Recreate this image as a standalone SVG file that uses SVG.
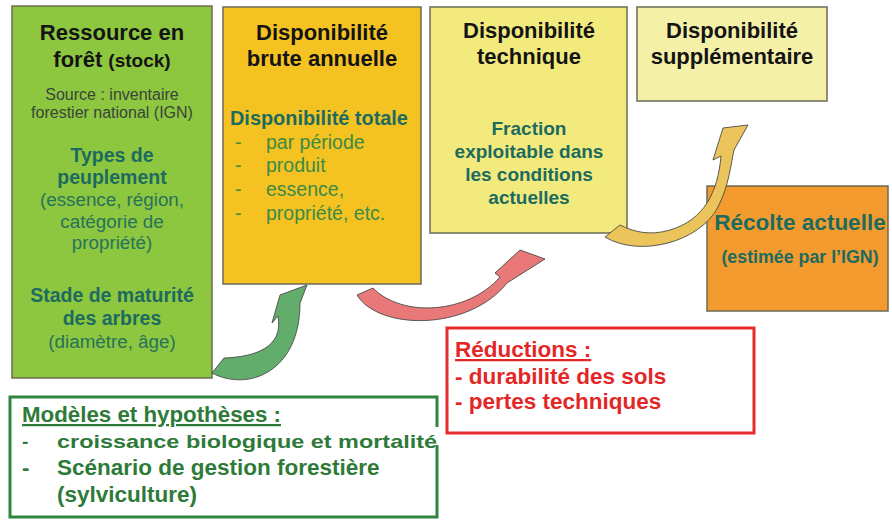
<svg xmlns="http://www.w3.org/2000/svg" width="892" height="520" viewBox="0 0 892 520">
  <style>
    text { font-family: "Liberation Sans", Arial, sans-serif; }
    .box { stroke: #6b6b55; stroke-width: 1.5; }
    .ttl { font-weight: bold; fill: #141414; font-size: 22px; text-anchor: middle; }
    .teal { font-weight: bold; fill: #1c6b5e; }
    .tealr { fill: #27735c; }
    .grn { fill: #3d8a45; }
    .red { fill: #e32626; font-weight: bold; }
    .dgrn { fill: #2e7a38; font-weight: bold; }
    .mid { text-anchor: middle; }
    .arrow { stroke: #4a4a4a; stroke-width: 0.9; stroke-linejoin: round; }
  </style>

  <rect width="892" height="520" fill="#ffffff"/>

  <!-- Forest resource (stock) -->
  <g id="ressource">
    <rect class="box" x="12" y="6" width="200" height="372" fill="#8dc63f"/>
    <text class="ttl" x="112" y="40" font-size="23">Ressource en</text>
    <text class="ttl" x="112" y="67" font-size="23">forêt <tspan font-size="19">(stock)</tspan></text>
    <text class="mid" x="112" y="100" font-size="16" fill="#37453a">Source : inventaire</text>
    <text class="mid" x="112" y="118" font-size="16" fill="#37453a">forestier national (IGN)</text>
    <text class="teal mid" x="112" y="162" font-size="19.5">Types de</text>
    <text class="teal mid" x="112" y="184" font-size="19.5">peuplement</text>
    <text class="tealr mid" x="112" y="206" font-size="18.8">(essence, région,</text>
    <text class="tealr mid" x="112" y="228" font-size="18.8">catégorie de</text>
    <text class="tealr mid" x="112" y="249" font-size="18.8">propriété)</text>
    <text class="teal mid" x="112" y="302" font-size="19.5">Stade de maturité</text>
    <text class="teal mid" x="112" y="325" font-size="19.5">des arbres</text>
    <text class="tealr mid" x="112" y="348" font-size="18.8">(diamètre, âge)</text>
  </g>

  <!-- Gross annual availability -->
  <g id="brute">
    <rect class="box" x="223" y="7" width="198" height="277" fill="#f4c322"/>
    <text class="ttl" x="322" y="40">Disponibilité</text>
    <text class="ttl" x="322" y="66">brute annuelle</text>
    <text class="teal" x="230" y="125" font-size="19.9">Disponibilité totale</text>
    <g class="grn" font-size="19.5">
      <text x="235" y="149">-</text><text x="266" y="149">par période</text>
      <text x="235" y="172">-</text><text x="266" y="172">produit</text>
      <text x="235" y="196">-</text><text x="266" y="196">essence,</text>
      <text x="235" y="220">-</text><text x="266" y="220">propriété, etc.</text>
    </g>
  </g>

  <!-- Technical availability -->
  <g id="technique">
    <rect class="box" x="430" y="7" width="197" height="226" fill="#f3ea7e"/>
    <text class="ttl" x="529" y="38">Disponibilité</text>
    <text class="ttl" x="529" y="64">technique</text>
    <g class="teal mid" font-size="19">
      <text x="529" y="135">Fraction</text>
      <text x="529" y="158">exploitable dans</text>
      <text x="529" y="181">les conditions</text>
      <text x="529" y="204">actuelles</text>
    </g>
  </g>

  <!-- Additional availability -->
  <g id="supplementaire">
    <rect class="box" x="637" y="7" width="190" height="94" fill="#f5f0a8"/>
    <text class="ttl" x="732" y="38">Disponibilité</text>
    <text class="ttl" x="732" y="64" font-size="19.6">supplémentaire</text>
  </g>

  <!-- Current harvest -->
  <g id="recolte">
    <rect class="box" x="707" y="186" width="181" height="125" fill="#f39b2e"/>
    <text class="teal mid" x="800" y="230" font-size="22.5">Récolte actuelle</text>
    <text class="teal mid" x="800" y="263" font-size="17.8">(estimée par l’IGN)</text>
  </g>

  <!-- Reductions -->
  <g id="reductions">
    <rect x="447" y="328" width="307" height="105" fill="#ffffff" stroke="#e52b2b" stroke-width="3"/>
    <text class="red" x="455" y="357" font-size="22.5" text-decoration="underline">Réductions :</text>
    <text class="red" x="455" y="384" font-size="22.5">- durabilité des sols</text>
    <text class="red" x="455" y="409" font-size="22.5">- pertes techniques</text>
  </g>

  <!-- Models and assumptions -->
  <g id="modeles">
    <rect x="10" y="397" width="427" height="120" fill="#ffffff" stroke="#2e8540" stroke-width="3"/>
    <rect x="432" y="427" width="10" height="18" fill="#ffffff"/>
    <text class="dgrn" x="22" y="422" font-size="22.3" text-decoration="underline">Modèles et hypothèses :</text>
    <text class="dgrn" x="22" y="448" font-size="19">-</text>
    <text class="dgrn" x="57" y="448" font-size="18.5" textLength="380" lengthAdjust="spacingAndGlyphs">croissance biologique et mortalité</text>
    <text class="dgrn" x="22" y="475" font-size="22">-</text>
    <text class="dgrn" x="57" y="475" font-size="22.5">Scénario de gestion forestière</text>
    <text class="dgrn" x="57" y="502" font-size="22.5">(sylviculture)</text>
  </g>

  <!-- Curved block arrows between stages -->
  <g id="connectors">
    <path class="arrow" fill="#63ad6c" d="M212,373 C248,392 300,372 300,303 L307,285 L280,295 L272,323 L278,316 C284,348 254,357 224,358 Z"/>
    <path class="arrow" fill="#e97878" d="M357,295 C378,330 468,332 507,283 L545,259 L520,250 L495,273 L500,277 C468,314 402,318 373,288 Z"/>
    <path class="arrow" fill="#ebc45c" d="M605,237 C640,258 700,242 718,207 C729,186 731,163 734,150 L748,125 L723,128 L713,160 L721,156 C718,192 704,220 670,230 C650,236 634,232 620,225 Z"/>
  </g>
</svg>
